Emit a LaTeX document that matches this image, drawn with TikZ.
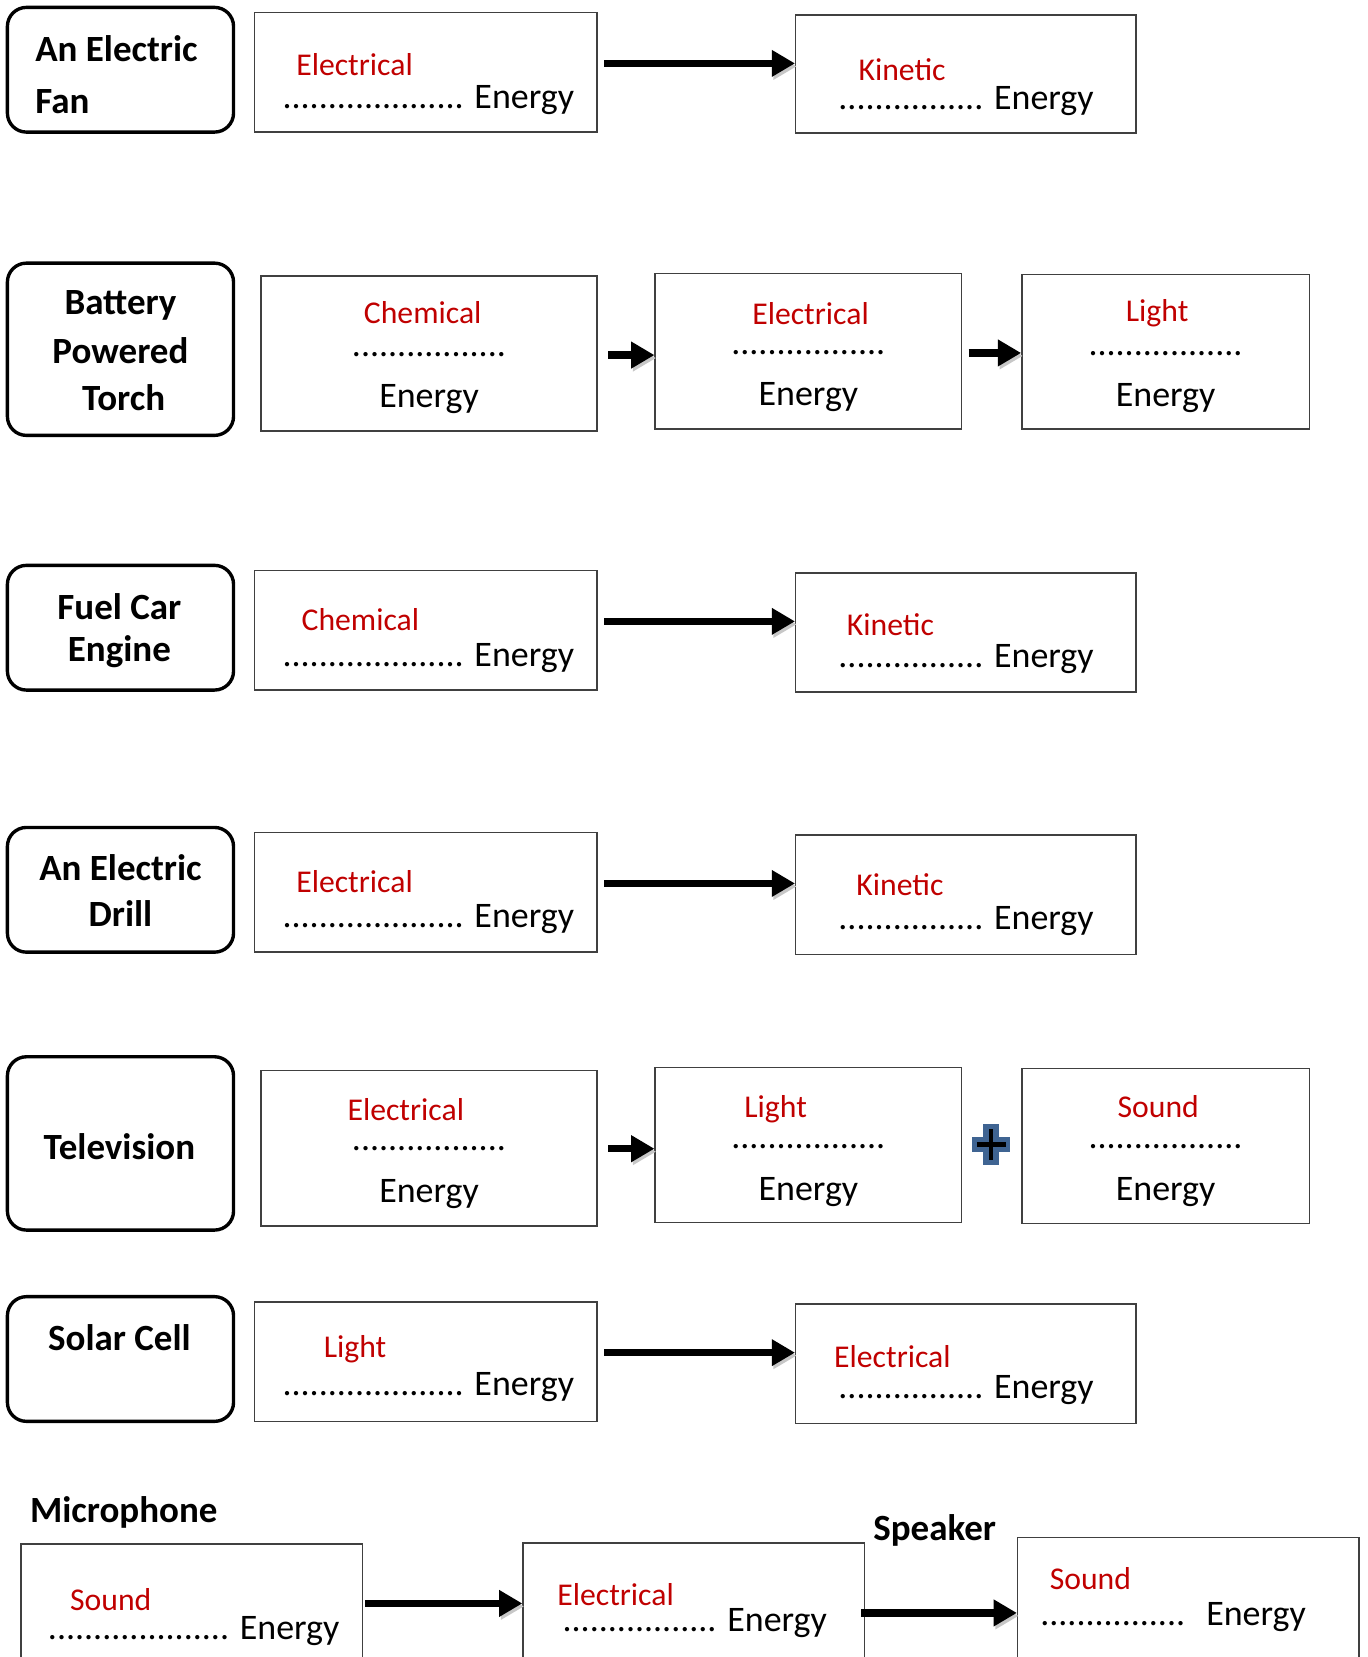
\documentclass[tikz,border=0pt]{standalone}
\usepackage{fontspec}
\setmainfont{Carlito}
\usetikzlibrary{arrows.meta}
\definecolor{redtxt}{HTML}{C00000}
\definecolor{plusblue}{HTML}{3F6492}
\definecolor{boxline}{HTML}{404040}
\begin{document}
\begin{tikzpicture}[x=0.5pt,y=-0.5pt,
  lbl/.style={draw=black, line width=1.6pt, rounded corners=9pt, inner sep=0pt, minimum width=107pt},
  ebox/.style={draw=boxline, line width=0.7pt, inner sep=0pt},
  redt/.style={text=redtxt, font=\fontsize{15}{18}\selectfont, inner sep=0pt},
  entx/.style={font=\fontsize{17}{20}\selectfont, inner sep=0pt},
  boldt/.style={font=\bfseries\fontsize{17.5}{21}\selectfont, inner sep=0pt},
  arr/.style={line width=3.5pt, -{Triangle[length=11pt,width=12pt]},
    preaction={draw=black!22, transform canvas={shift={(0.8pt,-1.4pt)}}}},
]
\clip (0,0) rectangle (1294,1568);

% Row 1
\node[lbl, minimum height=59pt] (L1) at (114,66) {};
\node[boldt, anchor=base west] (L1a) at (33,58) {An Electric};
\node[boldt, anchor=base west] (L1b) at (33,107) {Fan};
\node[ebox, minimum width=162pt, minimum height=56.5pt] (A1) at (403,68.5) {};
\node[redt, anchor=base west] (A1r) at (280,71) {Electrical};
\node[entx, anchor=base west] (A1e) at (267,103) {.................... Energy};
\node[ebox, minimum width=161pt, minimum height=56pt] (B1) at (914,70) {};
\node[redt, anchor=base west] (B1r) at (812,76) {Kinetic};
\node[entx, anchor=base west] (B1e) at (793,104) {................ Energy};
\coordinate (s1) at ([shift={(6,-8.5)}]A1.east);
\draw[arr] (s1) -- (s1 -| B1.west);

% Row 2
\node[lbl, minimum height=81.5pt] (L2) at (114,330.5) {};
\node[boldt, anchor=base] (L2a) at (114,298) {Battery};
\node[boldt, anchor=base] (L2b) at (114,344) {Powered};
\node[boldt, anchor=base] (L2c) at (117,388) {Torch};
\node[ebox, minimum width=159pt, minimum height=73.5pt] (A2) at (406,334.5) {};
\node[redt, anchor=base] (A2r) at (400,306) {Chemical};
\node[entx, anchor=base] (A2d) at (406,337) {.................};
\node[entx, anchor=base] (A2e) at (406,386) {Energy};
\node[ebox, minimum width=145pt, minimum height=73.5pt] (B2) at (765,332.5) {};
\node[redt, anchor=base] (B2r) at (767,307) {Electrical};
\node[entx, anchor=base] (B2d) at (765,335) {.................};
\node[entx, anchor=base] (B2e) at (765,384) {Energy};
\node[ebox, minimum width=136pt, minimum height=73pt] (C2) at (1103,333) {};
\node[redt, anchor=base] (C2r) at (1095,304) {Light};
\node[entx, anchor=base] (C2d) at (1103,336) {.................};
\node[entx, anchor=base] (C2e) at (1103,385) {Energy};
\coordinate (s2a) at ([shift={(10,1.5)}]A2.east);
\draw[arr] (s2a) -- (s2a -| B2.west);
\coordinate (s2b) at ([shift={(6,1.5)}]B2.east);
\draw[arr] (s2b) -- (s2b -| C2.west);

% Row 3
\node[lbl, minimum height=59pt] (L3) at (114,594) {};
\node[boldt, anchor=base] (L3a) at (113,586) {Fuel Car};
\node[boldt, anchor=base] (L3b) at (113,626) {Engine};
\node[ebox, minimum width=162pt, minimum height=56.5pt] (A3) at (403,596.5) {};
\node[redt, anchor=base west] (A3r) at (285,597) {Chemical};
\node[entx, anchor=base west] (A3e) at (267,631) {.................... Energy};
\node[ebox, minimum width=161pt, minimum height=56.5pt] (B3) at (914,598.5) {};
\node[redt, anchor=base west] (B3r) at (801,601) {Kinetic};
\node[entx, anchor=base west] (B3e) at (793,632) {................ Energy};
\coordinate (s3) at ([shift={(6,-8.5)}]A3.east);
\draw[arr] (s3) -- (s3 -| B3.west);

% Row 4
\node[lbl, minimum height=59pt] (L4) at (114,842) {};
\node[boldt, anchor=base] (L4a) at (114,833) {An Electric};
\node[boldt, anchor=base] (L4b) at (114,877) {Drill};
\node[ebox, minimum width=162pt, minimum height=56.5pt] (A4) at (403,844.5) {};
\node[redt, anchor=base west] (A4r) at (280,845) {Electrical};
\node[entx, anchor=base west] (A4e) at (267,878) {.................... Energy};
\node[ebox, minimum width=161pt, minimum height=56.5pt] (B4) at (914,846.5) {};
\node[redt, anchor=base west] (B4r) at (810,847) {Kinetic};
\node[entx, anchor=base west] (B4e) at (793,880) {................ Energy};
\coordinate (s4) at ([shift={(6,-8.5)}]A4.east);
\draw[arr] (s4) -- (s4 -| B4.west);

% Row 5
\node[lbl, minimum height=82pt] (L5) at (114,1082) {};
\node[boldt, anchor=base] (L5a) at (113,1097) {Television};
\node[ebox, minimum width=159pt, minimum height=73.5pt] (A5) at (406,1086.5) {};
\node[redt, anchor=base] (A5r) at (384,1060) {Electrical};
\node[entx, anchor=base] (A5d) at (406,1089) {.................};
\node[entx, anchor=base] (A5e) at (406,1138) {Energy};
\node[ebox, minimum width=145pt, minimum height=73.5pt] (B5) at (765,1083.5) {};
\node[redt, anchor=base west] (B5r) at (704,1057) {Light};
\node[entx, anchor=base] (B5d) at (765,1087) {.................};
\node[entx, anchor=base] (B5e) at (765,1136) {Energy};
\node[ebox, minimum width=136pt, minimum height=73.5pt] (C5) at (1103,1084.5) {};
\node[redt, anchor=base] (C5r) at (1096,1057) {Sound};
\node[entx, anchor=base] (C5d) at (1103,1087) {.................};
\node[entx, anchor=base] (C5e) at (1103,1136) {Energy};
\coordinate (s5) at ([shift={(10,0.5)}]A5.east);
\draw[arr] (s5) -- (s5 -| B5.west);
% plus sign
\fill[plusblue] (930.5,1063.5) rectangle (945.5,1102.5);
\fill[plusblue] (920,1075.5) rectangle (956,1090.5);
\draw[line width=2pt] (924.5,1083) -- (951.5,1083) (938,1068.5) -- (938,1097.5);

% Row 6
\node[lbl, minimum height=59pt] (L6) at (114,1286) {};
\node[boldt, anchor=base] (L6a) at (113,1278) {Solar Cell};
\node[ebox, minimum width=162pt, minimum height=56.5pt] (A6) at (403,1288.5) {};
\node[redt, anchor=base west] (A6r) at (306,1285) {Light};
\node[entx, anchor=base west] (A6e) at (267,1321) {.................... Energy};
\node[ebox, minimum width=161pt, minimum height=56.5pt] (B6) at (914,1290.5) {};
\node[redt, anchor=base west] (B6r) at (789,1294) {Electrical};
\node[entx, anchor=base west] (B6e) at (793,1323) {................ Energy};
\coordinate (s6) at ([shift={(6,-8.5)}]A6.east);
\draw[arr] (s6) -- (s6 -| B6.west);

% Row 7
\node[boldt, anchor=base west] (M) at (28,1441) {Microphone};
\node[ebox, minimum width=161.5pt, minimum height=100pt] (A7) at (181.5,1561) {};
\node[redt, anchor=base west] (A7r) at (66,1524) {Sound};
\node[entx, anchor=base west] (A7e) at (45,1551) {.................... Energy};
\node[ebox, minimum width=161.5pt, minimum height=100pt] (B7) at (656.5,1560) {};
\node[redt, anchor=base west] (B7r) at (527,1519) {Electrical};
\node[entx, anchor=base west] (B7e) at (532,1544) {................. Energy};
\node[boldt, anchor=base west] (S) at (826,1458) {Speaker};
\node[ebox, minimum width=161.5pt, minimum height=100pt] (C7) at (1124.5,1555) {};
\node[redt, anchor=base west] (C7r) at (993,1504) {Sound};
\node[entx, anchor=base west] (C7e) at (984,1538) {................\hspace{10pt}Energy};
\coordinate (s7a) at ([shift={(2,57)}]A7.north east);
\draw[arr] (s7a) -- (s7a -| B7.west);
\coordinate (s7b) at ([shift={(-4,67)}]B7.north east);
\draw[arr] (s7b) -- (s7b -| C7.west);
\end{tikzpicture}
\end{document}
